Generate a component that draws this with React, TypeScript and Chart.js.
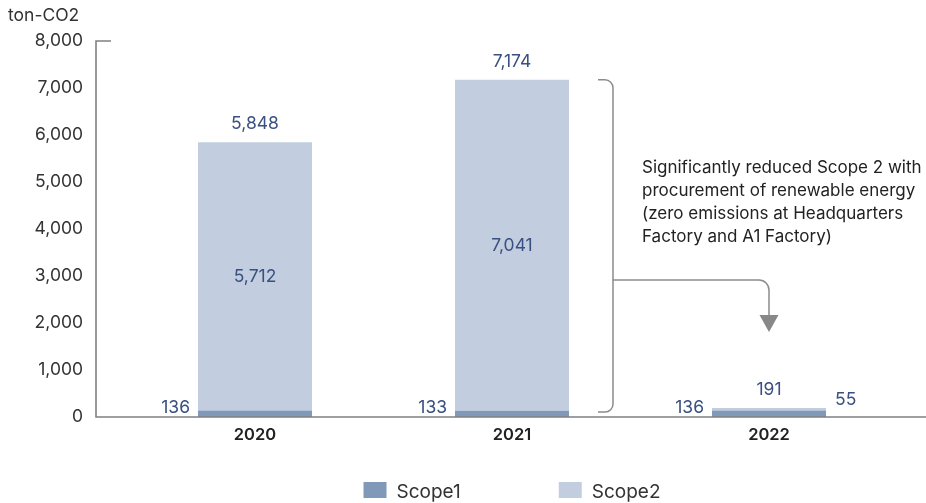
import React, { useEffect, useRef } from "react";
import { Chart, registerables } from "chart.js";

Chart.register(...registerables);

const categories = ["2020", "2021", "2022"];
const scope1 = [136, 133, 136];
const scope2 = [5712, 7041, 55];
const totals = [5848, 7174, 191];
const yTicks = [0, 1000, 2000, 3000, 4000, 5000, 6000, 7000, 8000];
const seriesNames = ["Scope1", "Scope2"];
const noteLines = [
  "Significantly reduced Scope 2 with",
  "procurement of renewable energy",
  "(zero emissions at Headquarters",
  "Factory and A1 Factory)",
];
const unitLabel = "ton-CO2";

const COLOR1 = "#8099b9";
const COLOR2 = "#c2cedf";
const LABEL = "#3a5080";
const FONT = "Inter, 'Noto Sans', sans-serif";
const fmt = (v: number) => v.toLocaleString("en-US");

const overlay = {
  id: "overlay",
  afterDatasetsDraw(chart: any) {
    const ctx = chart.ctx as CanvasRenderingContext2D;
    const y = chart.scales.y;
    const area = chart.chartArea;
    const m1 = chart.getDatasetMeta(0);
    const m2 = chart.getDatasetMeta(1);
    const y0 = y.getPixelForValue(0);
    const yTop = y.getPixelForValue(yTicks[yTicks.length - 1]);
    const axisX = 96;
    ctx.save();

    ctx.strokeStyle = "#808080";
    ctx.lineWidth = 1.6;
    ctx.beginPath();
    ctx.moveTo(axisX + 15, yTop);
    ctx.lineTo(axisX, yTop);
    ctx.lineTo(axisX, y0);
    ctx.lineTo(chart.width, y0);
    ctx.stroke();

    ctx.fillStyle = LABEL;
    ctx.font = `17.5px ${FONT}`;
    for (let i = 0; i < categories.length; i++) {
      const b1 = m1.data[i] as any;
      const b2 = m2.data[i] as any;
      const left = b1.x - b1.width / 2;
      const right = b1.x + b1.width / 2;
      ctx.textAlign = "right";
      ctx.textBaseline = "alphabetic";
      ctx.fillText(fmt(scope1[i]), left - 8, y0 - 4);
      const h = Math.abs(b2.base - b2.y);
      if (h > 30) {
        ctx.textAlign = "center";
        ctx.textBaseline = "middle";
        ctx.fillText(fmt(scope2[i]), b2.x, (b2.base + b2.y) / 2);
      } else {
        ctx.textAlign = "left";
        ctx.textBaseline = "alphabetic";
        ctx.fillText(fmt(scope2[i]), right + 9, y0 - 12);
      }
      ctx.textAlign = "center";
      ctx.textBaseline = "alphabetic";
      ctx.fillText(fmt(totals[i]), b2.x, y.getPixelForValue(totals[i]) - 13);
    }

    ctx.fillStyle = "#333";
    ctx.font = `17.5px ${FONT}`;
    ctx.textAlign = "left";
    ctx.textBaseline = "alphabetic";
    ctx.fillText(unitLabel, 8, 21);

    const b21 = m2.data[1] as any;
    const b22 = m2.data[2] as any;
    const bx = b21.x + b21.width / 2 + 44;
    const bt = y.getPixelForValue(totals[1]);
    const bb = y0 - 5;
    const r = 8;
    ctx.strokeStyle = "#8c8c8c";
    ctx.lineWidth = 1.5;
    ctx.beginPath();
    ctx.moveTo(bx - 15, bt);
    ctx.lineTo(bx - r, bt);
    ctx.arcTo(bx, bt, bx, bt + r, r);
    ctx.lineTo(bx, bb - r);
    ctx.arcTo(bx, bb, bx - r, bb, r);
    ctx.lineTo(bx - 15, bb);
    ctx.stroke();
    const my = 280;
    const ax = b22.x;
    const r2 = 10;
    const arrowTop = 315;
    ctx.beginPath();
    ctx.moveTo(bx, my);
    ctx.lineTo(ax - r2, my);
    ctx.arcTo(ax, my, ax, my + r2, r2);
    ctx.lineTo(ax, arrowTop);
    ctx.stroke();
    ctx.fillStyle = "#888";
    ctx.beginPath();
    ctx.moveTo(ax - 9.5, arrowTop);
    ctx.lineTo(ax + 9.5, arrowTop);
    ctx.lineTo(ax, arrowTop + 17);
    ctx.closePath();
    ctx.fill();

    ctx.fillStyle = "#222";
    ctx.font = `17px ${FONT}`;
    ctx.textAlign = "left";
    ctx.textBaseline = "middle";
    noteLines.forEach((t, k) => ctx.fillText(t, 642, 168 + k * 23));

    ctx.font = `19px ${FONT}`;
    ctx.textBaseline = "alphabetic";
    const colors = [COLOR1, COLOR2];
    const boxW = 23, boxH = 16, gapBT = 10, gapItems = 98;
    const widths = seriesNames.map((n) => ctx.measureText(n).width);
    const total = widths.reduce((a, w) => a + boxW + gapBT + w, 0) + gapItems;
    let x = (area.left + area.right) / 2 - total / 2;
    seriesNames.forEach((n, k) => {
      ctx.fillStyle = colors[k];
      ctx.fillRect(x, 482, boxW, boxH);
      ctx.fillStyle = "#333";
      ctx.fillText(n, x + boxW + gapBT, 498);
      x += boxW + gapBT + widths[k] + gapItems;
    });
    ctx.restore();
  },
};

export default function App() {
  const ref = useRef<HTMLCanvasElement | null>(null);
  useEffect(() => {
    document.body.style.margin = "0";
    if (!ref.current) return;
    const chart = new Chart(ref.current, {
      type: "bar",
      data: {
        labels: categories,
        datasets: [
          { label: seriesNames[0], data: scope1, backgroundColor: COLOR1 },
          { label: seriesNames[1], data: scope2, backgroundColor: COLOR2 },
        ],
      },
      options: {
        responsive: false,
        animation: false,
        devicePixelRatio: 1,
        layout: { padding: { top: 41, right: 28.5, left: 0, bottom: 0 } },
        datasets: { bar: { categoryPercentage: 1, barPercentage: 0.4436 } },
        plugins: { legend: { display: false }, tooltip: { enabled: false }, title: { display: false } },
        scales: {
          x: {
            stacked: true,
            grid: { display: false, drawTicks: false },
            border: { display: false },
            ticks: { color: "#222", font: { family: FONT, size: 16.5, weight: "600" }, padding: 8 },
            afterFit: (s: any) => { s.height = 86; s.paddingLeft = 0; s.paddingRight = 0; },
          },
          y: {
            stacked: true,
            min: 0,
            max: 8000,
            grid: { display: false, drawTicks: false },
            border: { display: false },
            afterBuildTicks: (s: any) => { s.ticks = yTicks.map((v) => ({ value: v })); },
            ticks: {
              color: "#333",
              font: { family: FONT, size: 17.5 },
              padding: 43.5,
              callback: (v: any) => fmt(Number(v)),
            },
            afterFit: (s: any) => { s.width = 126.5; s.paddingTop = 0; s.paddingBottom = 0; },
          },
        },
      } as any,
      plugins: [overlay],
    });
    return () => chart.destroy();
  }, []);
  return (
    <div style={{ width: 926, height: 503 }}>
      <canvas ref={ref} width={926} height={503} style={{ display: "block" }} />
    </div>
  );
}
